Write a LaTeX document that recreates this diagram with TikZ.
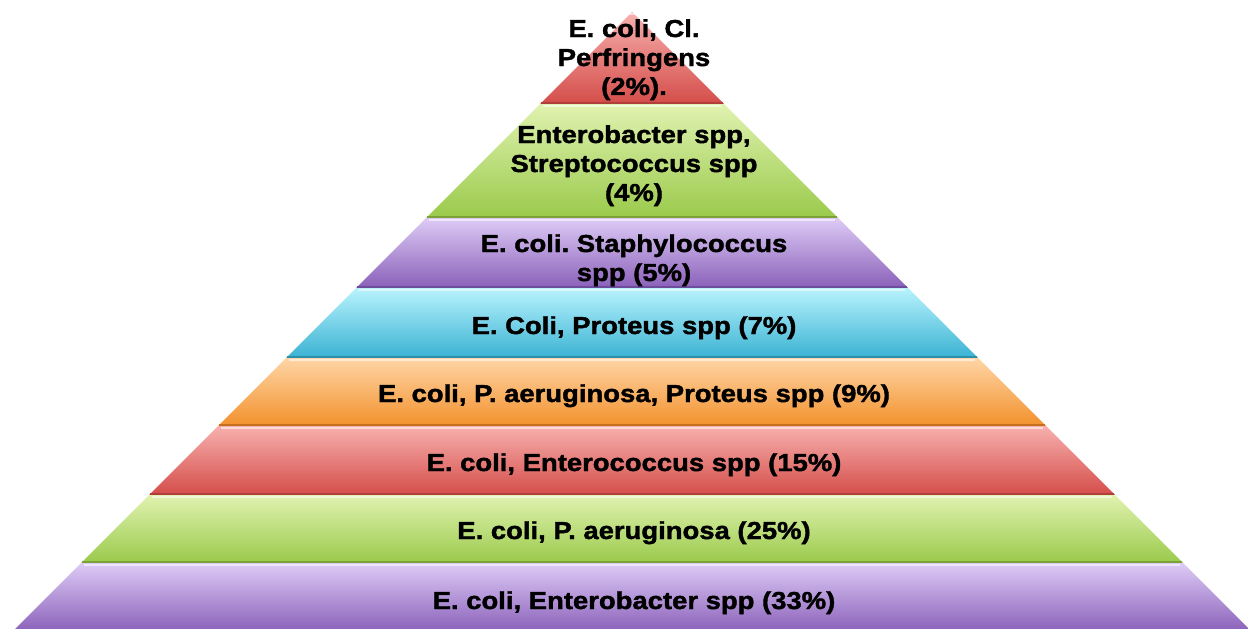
\documentclass[tikz,border=0pt]{standalone}
\usepackage{fontspec}
\setmainfont{Liberation Sans}[FakeStretch=1.12, BoldFeatures={FakeBold=1.6}]
\definecolor{rT}{HTML}{F7B0AE}\definecolor{rM}{HTML}{EE807D}\definecolor{rB}{HTML}{D44D49}\definecolor{rL}{HTML}{B03E3A}
\definecolor{gT}{HTML}{E0F2B0}\definecolor{gM}{HTML}{C3E37F}\definecolor{gB}{HTML}{9ACA4B}\definecolor{gL}{HTML}{7BA236}
\definecolor{pT}{HTML}{DDCBF6}\definecolor{pM}{HTML}{C1A3E8}\definecolor{pB}{HTML}{8A60B9}\definecolor{pL}{HTML}{6E4C9C}
\definecolor{cT}{HTML}{B8F3FD}\definecolor{cM}{HTML}{84E0F5}\definecolor{cB}{HTML}{3AB2D3}\definecolor{cL}{HTML}{2C8FAC}
\definecolor{oT}{HTML}{FFD5A6}\definecolor{oM}{HTML}{FDB771}\definecolor{oB}{HTML}{F2912C}\definecolor{oL}{HTML}{C5701E}
% #1 top y, #2 bottom y, #3 colour prefix
\newcommand\pyrlayer[3]{%
  \shade[top color=#3T, middle color=#3M, bottom color=#3B]
    ({632-(#1-12)},#1) -- ({632+(#1-12)},#1) -- ({632+(#2-12)},#2) -- ({632-(#2-12)},#2) -- cycle;
  \draw[#3L, line width=1.6pt] ({632-(#2-12)+1},#2-0.8) -- ({632+(#2-12)-1},#2-0.8);
  \draw[white, opacity=0.55, line width=2pt] ({632-(#1-12)+3},#1+2) -- ({632+(#1-12)-3},#1+2);
}
\tikzset{lbl/.style={anchor=base, inner sep=0pt, font=\bfseries\frenchspacing\fontsize{24.5}{29}\selectfont, text=black}}
\newcommand\lines[1]{\begin{tabular}[t]{@{}c@{}}#1\end{tabular}}
\begin{document}
\frenchspacing
\begin{tikzpicture}[x=1pt,y=-1pt]
\useasboundingbox (0,0) rectangle (1248,629);
\pyrlayer{12}{104}{r}
\pyrlayer{104}{218}{g}
\pyrlayer{218}{288}{p}
\pyrlayer{288}{358}{c}
\pyrlayer{358}{426}{o}
\pyrlayer{426}{495}{r}
\pyrlayer{495}{563}{g}
\pyrlayer{563}{632}{p}
\node[lbl] (t1) at (634,37) {\lines{E. coli, Cl.\\Perfringens\\(2\%).}};
\node[lbl] (t2) at (634,143) {\lines{Enterobacter spp,\\Streptococcus spp\\(4\%)}};
\node[lbl] (t3) at (634,252) {\lines{E. coli. Staphylococcus\\spp (5\%)}};
\node[lbl] (t4) at (634,334) {E. Coli, Proteus spp (7\%)};
\node[lbl] (t5) at (634,402) {E. coli, P. aeruginosa, Proteus spp (9\%)};
\node[lbl] (t6) at (634,471) {E. coli, Enterococcus spp (15\%)};
\node[lbl] (t7) at (634,539) {E. coli, P. aeruginosa (25\%)};
\node[lbl] (t8) at (634,609) {E. coli, Enterobacter spp (33\%)};
\end{tikzpicture}
\end{document}
